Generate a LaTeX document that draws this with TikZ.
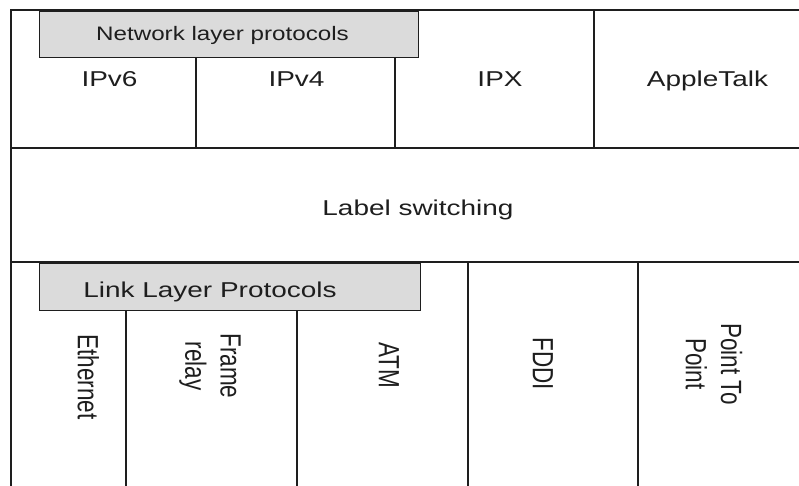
\documentclass[tikz,border=0pt]{standalone}
\usepackage{fontspec}
\setmainfont{Liberation Sans}
\usepackage{graphicx}
\definecolor{ink}{HTML}{1E1E1E}
\definecolor{boxgray}{gray}{0.86}
% wide lettering for horizontal labels, and its counterpart for labels turned on their side
\newcommand{\widetxt}[1]{\scalebox{1.3}[1]{#1}}
\newcommand{\sidetxt}[1]{\scalebox{1}[1.3]{\begin{tabular}{@{}c@{}}#1\end{tabular}}}
\begin{document}
\begin{tikzpicture}[x=1pt,y=-1pt,
  rule/.style={draw=ink, line width=1.4pt},
  banner/.style={draw=ink, line width=1.4pt, fill=boxgray},
  lbl/.style={font=\fontsize{21.5}{27}\selectfont, text=ink, inner sep=0pt},
  smalllbl/.style={font=\fontsize{19.5}{24}\selectfont, text=ink, inner sep=0pt},
  sidelbl/.style={font=\fontsize{22.5}{27}\selectfont, text=ink, inner sep=0pt, rotate=-90}]
\useasboundingbox (0,0) rectangle (799,486);
\fill[white] (0,0) rectangle (799,486);

% frame and row boundaries
\draw[rule] (799,10) -- (11,10) -- (11,486);
\draw[rule] (11,148) -- (799,148);
\draw[rule] (11,262) -- (799,262);

% upper row: network layer protocols
\draw[rule] (196,57) -- (196,148);
\draw[rule] (395,57) -- (395,148);
\draw[rule] (594,10) -- (594,148);
\node[banner, minimum width=379pt, minimum height=46pt, inner sep=0pt, anchor=north west] (netbox) at (39,11) {};
\node[smalllbl, anchor=base] (net) at (222.5,41) {\scalebox{1.24}[1]{Network layer protocols}};
\node[lbl, anchor=base] (ipv6) at (109.5,87) {\widetxt{IPv6}};
\node[lbl, anchor=base] (ipv4) at (296.5,87) {\widetxt{IPv4}};
\node[lbl, anchor=base] (ipx) at (500,87) {\widetxt{IPX}};
\node[lbl, anchor=base] (apple) at (707.5,87) {\widetxt{AppleTalk}};

% middle row
\node[lbl, anchor=base] (lswitch) at (418,215) {\widetxt{Label switching}};

% lower row: link layer protocols
\draw[rule] (126,310) -- (126,486);
\draw[rule] (297,310) -- (297,486);
\draw[rule] (468,262) -- (468,486);
\draw[rule] (638,262) -- (638,486);
\node[banner, minimum width=381pt, minimum height=47pt, inner sep=0pt, anchor=north west] (linkbox) at (39,263) {};
\node[lbl, anchor=base] (link) at (210,297) {\widetxt{Link Layer Protocols}};
\node[sidelbl] (eth) at (85,377) {\sidetxt{Ethernet}};
\node[sidelbl] (frame) at (210,366) {\sidetxt{Frame\\relay}};
\node[sidelbl] (atm) at (386,365) {\sidetxt{ATM}};
\node[sidelbl] (fddi) at (540,364) {\sidetxt{FDDI}};
\node[sidelbl] (ptp) at (710.5,364) {\sidetxt{Point To\\Point}};
\end{tikzpicture}
\end{document}
